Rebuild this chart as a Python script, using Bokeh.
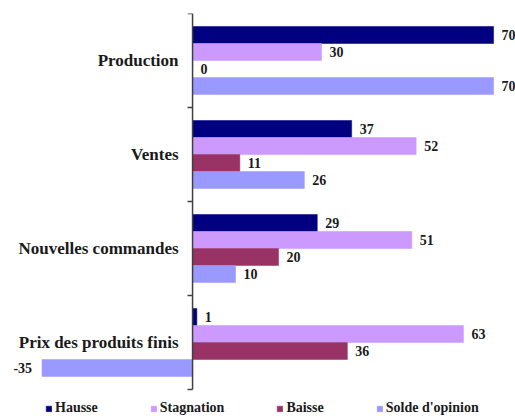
import numpy as np
from bokeh.plotting import figure
from bokeh.models import ColumnDataSource, Legend, LegendItem, Range1d
from bokeh.core.properties import value
from bokeh.embed import file_html
from bokeh.resources import INLINE

categories = ["Production", "Ventes", "Nouvelles commandes", "Prix des produits finis"]
series_names = ["Hausse", "Stagnation", "Baisse", "Solde d'opinion"]
hausse = [70, 37, 29, 1]
stagnation = [30, 52, 51, 63]
baisse = [0, 11, 20, 36]
solde = [70, 26, 10, -35]
colors = ["#000080", "#CC99FF", "#993366", "#9999FF"]

series_values = [hausse, stagnation, baisse, solde]

FONT = "Liberation Serif"
bar_h = 17 / 94

p = figure(frame_width=507, frame_height=403, output_backend="svg", toolbar_location=None,
           x_range=Range1d(-42.8, 75.1), y_range=Range1d(0.5 - 403 / 94, 0.5),
           x_axis_location=None, y_axis_location=None,
           min_border_left=8, min_border_right=0, min_border_top=13, min_border_bottom=0)
p.outline_line_color = None
p.xgrid.visible = False
p.ygrid.visible = False

centers = -np.arange(len(categories), dtype=float)

items = []
for j, (name, vals, col) in enumerate(zip(series_names, series_values, colors)):
    y = centers + (1.5 - j) * bar_h
    vals = np.array(vals, dtype=float)
    src = ColumnDataSource(dict(y=y, right=vals))
    r = p.hbar(y="y", left=0, right="right", height=bar_h, source=src,
               fill_color=col, line_color=col, line_width=0.5)
    items.append(LegendItem(label=name, renderers=[r]))
    pos = vals >= 0
    sp = ColumnDataSource(dict(x=vals[pos], y=y[pos], t=[str(int(v)) for v in vals[pos]]))
    sn = ColumnDataSource(dict(x=vals[~pos], y=y[~pos], t=[str(int(v)) for v in vals[~pos]]))
    p.text(x="x", y="y", text="t", source=sp, x_offset=8, text_align="left",
           text_baseline="middle", text_font=value(FONT), text_font_style="bold",
           text_font_size="14px", text_color="#1a1a1a")
    p.text(x="x", y="y", text="t", source=sn, x_offset=-10, text_align="right",
           text_baseline="middle", text_font=value(FONT), text_font_style="bold",
           text_font_size="14px", text_color="#1a1a1a")

# category labels
p.text(x=[0] * len(categories), y=centers, text=categories, x_offset=-14,
       text_align="right", text_baseline="middle", text_font=value(FONT),
       text_font_style="bold", text_font_size="17px", text_color="#1a1a1a")

# vertical axis line and group-boundary ticks
bounds = np.arange(-3.5, 0.51, 1.0)
p.segment(x0=0, y0=bounds.min(), x1=0, y1=bounds.max(), line_color="#404040", line_width=1.5)
p.ray(x=[0] * len(bounds), y=bounds, length=5, length_units="screen", angle=np.pi,
      line_color="#404040", line_width=1.5)

legend = Legend(items=items, orientation="horizontal", location=(37, 0),
                label_text_font=FONT, label_text_font_style="bold",
                label_text_font_size="14px", label_text_color="#1a1a1a",
                glyph_width=7, glyph_height=7, label_standoff=3, spacing=52,
                padding=0, margin=0, border_line_color=None, background_fill_alpha=0,
                label_height=14)
p.add_layout(legend, "center")

open("out.html", "w").write(file_html(p, INLINE))
